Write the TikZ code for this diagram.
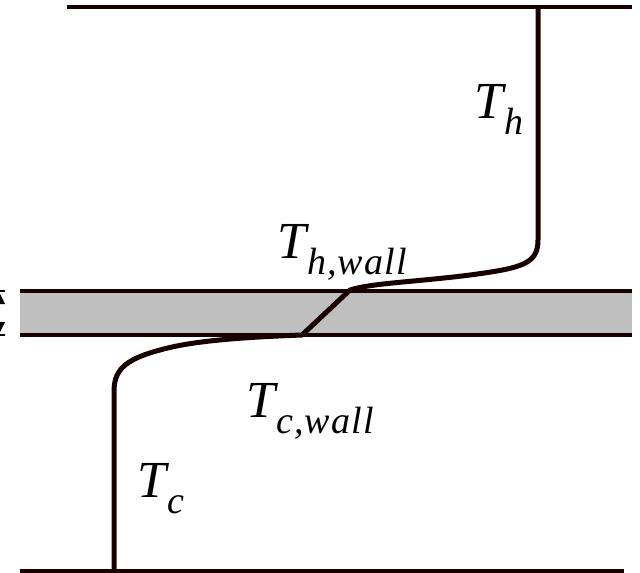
\documentclass[tikz,border=0pt]{standalone}
\usepackage{fontspec}
\setmainfont{Liberation Serif}
\usetikzlibrary{arrows.meta}
\newcommand\Tlab[1]{\fontsize{52}{52}\selectfont\textit{T}\kern-0.04em\raisebox{-0.32em}{\fontsize{38}{38}\selectfont\addfontfeature{LetterSpace=3}\textit{#1}}}
\tikzset{
  edge/.style={line width=3.8pt, color=black!90!red},
  profile/.style={line width=5pt, color=black!90!red, line join=round},
  lab/.style={anchor=base west, inner sep=0pt}
}
\begin{document}
\begin{tikzpicture}[x=1pt,y=-1pt]
\useasboundingbox (0,0) rectangle (640,573);
% wall
\fill[black!25] (20,291) rectangle (632,335);
\draw[edge] (20,291) coordinate (wtl) -- (632,291) coordinate (wtr);
\draw[edge] (20,335) coordinate (wbl) -- (632,335) coordinate (wbr);
% channel boundaries
\draw[edge] (67,7) coordinate (tl) -- (632,7) coordinate (tr);
\draw[edge] (20,571) coordinate (bl) -- (624,571) coordinate (br);
% thickness dimension (cut at edge)
\draw[line width=1.8pt] (-10,291) coordinate (d1) -- (5,291);
\draw[line width=1.8pt] (-10,335) coordinate (d2) -- (5,335);
\draw[line width=1pt, {Triangle[length=12pt,width=12pt]}-{Triangle[length=12pt,width=12pt]}] (-1,292) -- (-1,334);
% temperature profile
\draw[profile] (538,7) coordinate (p0) -- (538,240)
  .. controls (538,264) and (522,268) .. (470,275)
  .. controls (415,282) and (372,283) .. (350,290) coordinate (p1)
  -- (302,335) coordinate (p2)
  .. controls (250,337) and (195,340) .. (160,350)
  .. controls (122,360) and (114,372) .. (114,392)
  -- (114,571) coordinate (p3);
% labels
\node[lab] (th) at (474,118) {\Tlab{h}};
\node[lab] (thw) at (277,258) {\Tlab{h,wall}};
\node[lab] (tcw) at (246,417) {\Tlab{c,wall}};
\node[lab] (tc) at (137,497) {\Tlab{c}};
\end{tikzpicture}
\end{document}
